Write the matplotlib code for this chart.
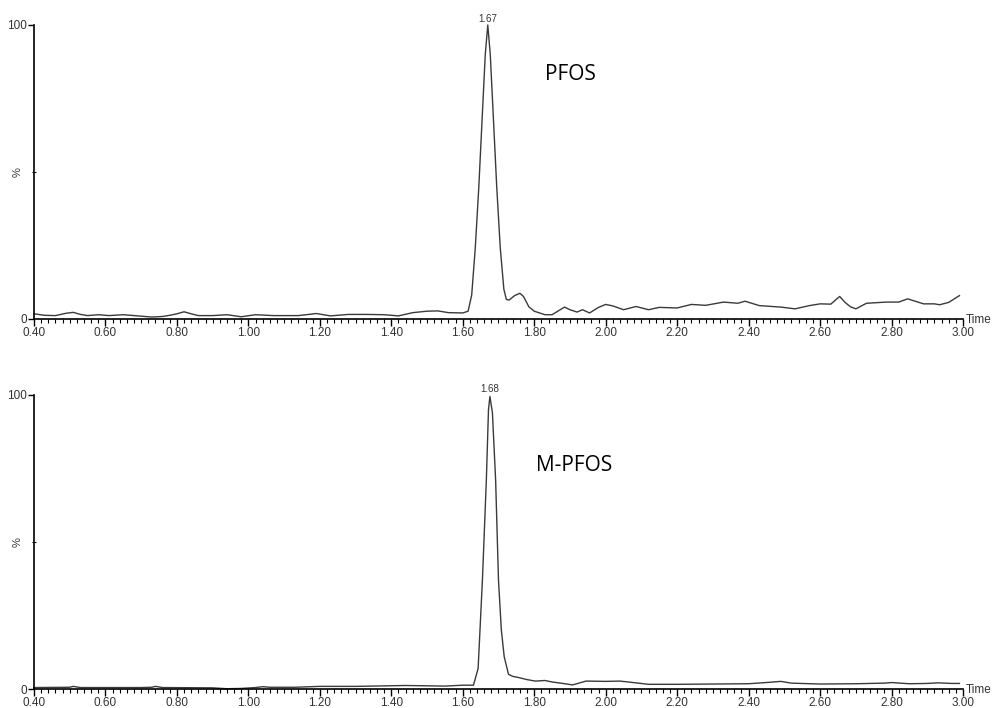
import matplotlib
matplotlib.use("Agg")
import matplotlib.pyplot as plt
from matplotlib.ticker import MultipleLocator

# PFOS trace (time in min, relative intensity %)
pfos_t = [0.40, 0.43, 0.46, 0.49, 0.51, 0.53, 0.55, 0.58, 0.61, 0.65, 0.69, 0.73, 0.76, 0.78,
          0.80, 0.82, 0.84, 0.86, 0.90, 0.94, 0.98, 1.02, 1.07, 1.14, 1.19, 1.23, 1.28, 1.33,
          1.38, 1.42, 1.46, 1.50, 1.53, 1.56, 1.60, 1.615, 1.625, 1.635, 1.645, 1.655, 1.663,
          1.670, 1.677, 1.685, 1.695, 1.705, 1.715, 1.722, 1.730, 1.745, 1.760, 1.770, 1.785,
          1.80, 1.83, 1.85, 1.87, 1.885, 1.90, 1.92, 1.935, 1.955, 1.98, 2.00, 2.02, 2.05,
          2.085, 2.12, 2.15, 2.20, 2.24, 2.28, 2.33, 2.37, 2.39, 2.43, 2.49, 2.53, 2.57, 2.60,
          2.63, 2.645, 2.655, 2.67, 2.685, 2.70, 2.73, 2.785, 2.82, 2.845, 2.89, 2.92, 2.935,
          2.96, 2.99]
pfos_y = [1.6, 1.1, 1.0, 1.8, 2.1, 1.4, 1.0, 1.3, 1.0, 1.3, 0.9, 0.5, 0.7, 1.1,
          1.6, 2.3, 1.6, 1.0, 1.0, 1.3, 0.6, 1.3, 1.0, 1.0, 1.7, 0.9, 1.4, 1.4,
          1.3, 0.9, 2.0, 2.5, 2.6, 2.0, 1.9, 2.5, 8, 24, 45, 70, 90,
          100, 90, 70, 45, 24, 10, 6.5, 6.3, 7.8, 8.6, 7.5, 4.0,
          2.5, 1.3, 1.3, 2.8, 3.9, 3.0, 2.2, 3.0, 1.9, 3.8, 4.8, 4.3, 3.0,
          4.1, 3.0, 3.8, 3.6, 4.8, 4.5, 5.6, 5.2, 5.9, 4.4, 3.9, 3.3, 4.4, 5.0,
          4.9, 6.5, 7.5, 5.5, 4.0, 3.3, 5.2, 5.6, 5.6, 6.7, 5.0, 5.0, 4.7,
          5.5, 7.8]

# M-PFOS trace
mpfos_t = [0.40, 0.50, 0.51, 0.53, 0.70, 0.73, 0.74, 0.76, 0.90, 0.94, 0.98, 1.02, 1.04, 1.06,
           1.13, 1.20, 1.30, 1.44, 1.55, 1.60, 1.63, 1.643, 1.655, 1.666, 1.672, 1.676, 1.683,
           1.692, 1.70, 1.708, 1.716, 1.728, 1.74, 1.757, 1.78, 1.803, 1.83, 1.85, 1.88, 1.907,
           1.925, 1.945, 2.00, 2.04, 2.07, 2.12, 2.20, 2.30, 2.40, 2.46, 2.49, 2.52, 2.60,
           2.70, 2.78, 2.80, 2.85, 2.90, 2.93, 2.97, 2.99]
mpfos_y = [0.5, 0.6, 0.9, 0.5, 0.5, 0.6, 0.9, 0.5, 0.4, 0.1, 0.2, 0.5, 0.8, 0.6,
           0.6, 0.9, 0.9, 1.2, 1.0, 1.3, 1.3, 7, 37, 71, 95, 99.5, 94,
           71, 37, 20, 11, 5, 4.3, 3.9, 3.2, 2.7, 2.9, 2.4, 1.9, 1.4,
           2.0, 2.7, 2.6, 2.7, 2.3, 1.6, 1.6, 1.7, 1.8, 2.3, 2.6, 2.0, 1.7,
           1.8, 2.0, 2.2, 1.8, 1.9, 2.1, 1.9, 1.9]

traces = [(pfos_t, pfos_y, "PFOS", 1.67, "1.67", (1.83, 83)),
          (mpfos_t, mpfos_y, "M-PFOS", 1.676, "1.68", (1.805, 76))]

fig = plt.figure(figsize=(9.94, 7.08), dpi=100)
rects = [[0.0342, 0.5501, 0.9346, 0.4146], [0.0342, 0.0268, 0.9346, 0.4153]]

for rect, (t, y, name, pk_t, pk_lab, txt_pos) in zip(rects, traces):
    ax = fig.add_axes(rect)
    ax.plot(t, y, color="#3a3a3a", lw=1.0, clip_on=False)
    ax.set_xlim(0.40, 3.00)
    ax.set_ylim(0, 100)
    for s in ["top", "right"]:
        ax.spines[s].set_visible(False)
    ax.spines["left"].set_linewidth(1.2)
    ax.spines["bottom"].set_linewidth(1.2)

    # ticks
    ax.xaxis.set_major_locator(MultipleLocator(0.2))
    ax.xaxis.set_minor_locator(MultipleLocator(0.02))
    ax.xaxis.set_major_formatter(plt.FuncFormatter(lambda v, p: f"{v:.2f}"))
    ax.set_yticks([0, 100])
    ax.yaxis.set_minor_locator(MultipleLocator(50))
    ax.tick_params(axis="x", which="major", length=5, width=1, pad=1,
                   labelsize=8.5, labelcolor="#333333")
    ax.tick_params(axis="x", which="minor", length=3, width=0.8)
    ax.tick_params(axis="y", which="major", length=4, width=1, pad=1,
                   labelsize=8.5, labelcolor="#333333")
    ax.tick_params(axis="y", which="minor", length=3, width=0.8, direction="inout")
    for lab in ax.get_xticklabels() + ax.get_yticklabels():
        lab.set_family("Liberation Sans")

    ax.set_ylabel("%", fontsize=8, family="Liberation Sans", color="#333333")
    ax.yaxis.set_label_coords(-0.012, 0.5)
    ax.text(1.003, -0.004, "Time", transform=ax.transAxes, fontsize=8.5,
            family="Liberation Sans", color="#333333", va="center", ha="left")

    # peak apex label
    ax.text(pk_t, 100.5, pk_lab, fontsize=7, family="Liberation Sans",
            color="#333333", ha="center", va="bottom")
    # compound name
    ax.text(txt_pos[0], txt_pos[1], name, fontsize=15, family="Open Sans",
            color="black", ha="left", va="center")

fig.savefig("out.png", dpi=100)
